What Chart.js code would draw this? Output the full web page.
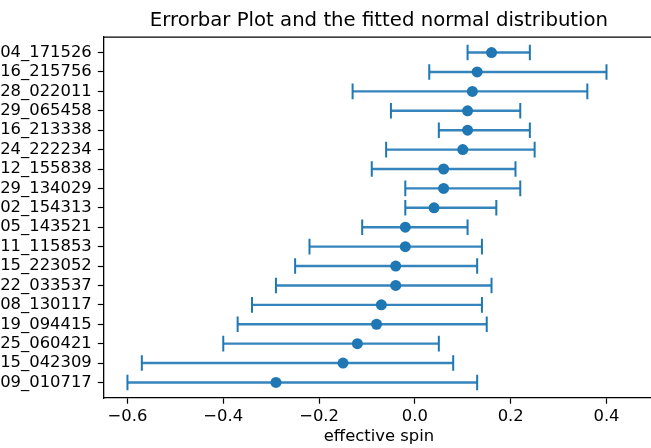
<!DOCTYPE html>
<html>
<head>
<meta charset="utf-8">
<script src="https://cdn.jsdelivr.net/npm/chart.js@4/dist/chart.umd.min.js"></script>
<style>
  html, body { margin: 0; padding: 0; background: #fff; }
  #wrap { position: relative; width: 651px; height: 448px; overflow: hidden; }
  #c { position: absolute; left: 0; top: 0; }
</style>
</head>
<body>
<div id="wrap"><canvas id="c" width="665" height="448"></canvas></div>
<script>
// Events (top to bottom)
const events = [
  "GW191204_171526", "GW200316_215756", "GW200128_022011", "GW200129_065458",
  "GW191216_213338", "GW200224_222234", "GW200112_155838", "GW191129_134029",
  "GW200202_154313", "GW191105_143521", "GW200311_115853", "GW191215_223052",
  "GW191222_033537", "GW200208_130117", "GW200219_094415", "GW200225_060421",
  "GW200115_042309", "GW191109_010717"
];
// effective spin median
const spinMedian = [0.16, 0.13, 0.12, 0.11, 0.11, 0.10, 0.06, 0.06, 0.04,
  -0.02, -0.02, -0.04, -0.04, -0.07, -0.08, -0.12, -0.15, -0.29];
// lower end of error bar
const spinLow = [0.11, 0.03, -0.13, -0.05, 0.05, -0.06, -0.09, -0.02, -0.02,
  -0.11, -0.22, -0.25, -0.29, -0.34, -0.37, -0.40, -0.57, -0.60];
// upper end of error bar
const spinHigh = [0.24, 0.40, 0.36, 0.22, 0.24, 0.25, 0.21, 0.22, 0.17,
  0.11, 0.14, 0.13, 0.16, 0.14, 0.15, 0.05, 0.08, 0.13];
const xTicks = [-0.6, -0.4, -0.2, 0.0, 0.2, 0.4];

const BLUE = '#1f77b4';
const FONT = 'DejaVu Sans';
const TICK_PX = 16.4;
const TITLE_PX = 19.7;

const segData = [];
const capData = [];
const ptData = [];
events.forEach((e, i) => {
  segData.push({x: spinLow[i], y: i}, {x: spinHigh[i], y: i}, {x: null, y: null});
  capData.push({x: spinLow[i], y: i}, {x: spinHigh[i], y: i});
  ptData.push({x: spinMedian[i], y: i});
});

const topBorder = {
  id: 'topBorder',
  afterDraw(chart) {
    const {ctx, chartArea} = chart;
    ctx.save();
    ctx.strokeStyle = '#000';
    ctx.lineWidth = 1.3;
    ctx.beginPath();
    ctx.moveTo(chartArea.left, chartArea.top);
    ctx.lineTo(chartArea.right, chartArea.top);
    ctx.stroke();
    ctx.restore();
  }
};

new Chart(document.getElementById('c'), {
  type: 'scatter',
  data: {
    datasets: [
      { type: 'scatter', data: ptData, order: 0, pointRadius: 5.5, pointBackgroundColor: BLUE,
        pointBorderWidth: 0, pointBorderColor: BLUE, showLine: false },
      { type: 'scatter', data: capData, order: 1, pointStyle: 'line', rotation: 90, pointRadius: 7.8,
        pointBorderColor: BLUE, pointBorderWidth: 2, showLine: false },
      { type: 'line', data: segData, order: 2, borderColor: 'rgba(31,119,180,0.9)', borderWidth: 2.4,
        pointRadius: 0, spanGaps: false, fill: false, tension: 0 }
    ]
  },
  options: {
    responsive: false,
    animation: false,
    devicePixelRatio: 1,
    events: [],
    layout: { padding: { left: 0, right: 10.6, top: 0, bottom: 0 } },
    plugins: {
      legend: { display: false },
      tooltip: { enabled: false },
      title: {
        display: true,
        fullSize: false,
        text: 'Errorbar Plot and the fitted normal distribution',
        color: '#000',
        font: { family: FONT, size: TITLE_PX, weight: 'normal', lineHeight: 1.2 },
        padding: { top: 8.9, bottom: 4.5 }
      }
    },
    scales: {
      x: {
        type: 'linear',
        min: -0.65,
        max: 0.5,
        afterBuildTicks: s => { s.ticks = xTicks.map(v => ({value: v})); },
        afterFit: s => { s.height = 50; },
        ticks: {
          color: '#000',
          font: { family: FONT, size: TICK_PX },
          padding: 3,
          autoSkip: false,
          maxRotation: 0,
          callback: v => (v < -1e-9 ? '\u2212' : '') + Math.abs(v).toFixed(1)
        },
        grid: { display: true, drawOnChartArea: false, drawTicks: true, tickLength: 5.7, tickColor: '#000', tickWidth: 1.2 },
        border: { display: true, color: '#000', width: 1.3 },
        title: {
          display: true,
          text: 'effective spin',
          color: '#000',
          font: { family: FONT, size: TICK_PX },
          padding: { top: 2, bottom: 1.9 }
        }
      },
      y: {
        type: 'linear',
        reverse: true,
        min: -0.8,
        max: 17.8,
        afterBuildTicks: s => { s.ticks = events.map((e, i) => ({value: i})); },
        afterFit: s => { s.width = 103.5; },
        ticks: {
          color: '#000',
          font: { family: FONT, size: TICK_PX },
          padding: 6,
          autoSkip: false,
          callback: v => events[v]
        },
        grid: { display: true, drawOnChartArea: false, drawTicks: true, tickLength: 5.7, tickColor: '#000', tickWidth: 1.2 },
        border: { display: true, color: '#000', width: 1.3 }
      }
    }
  },
  plugins: [topBorder]
});
</script>
</body>
</html>
